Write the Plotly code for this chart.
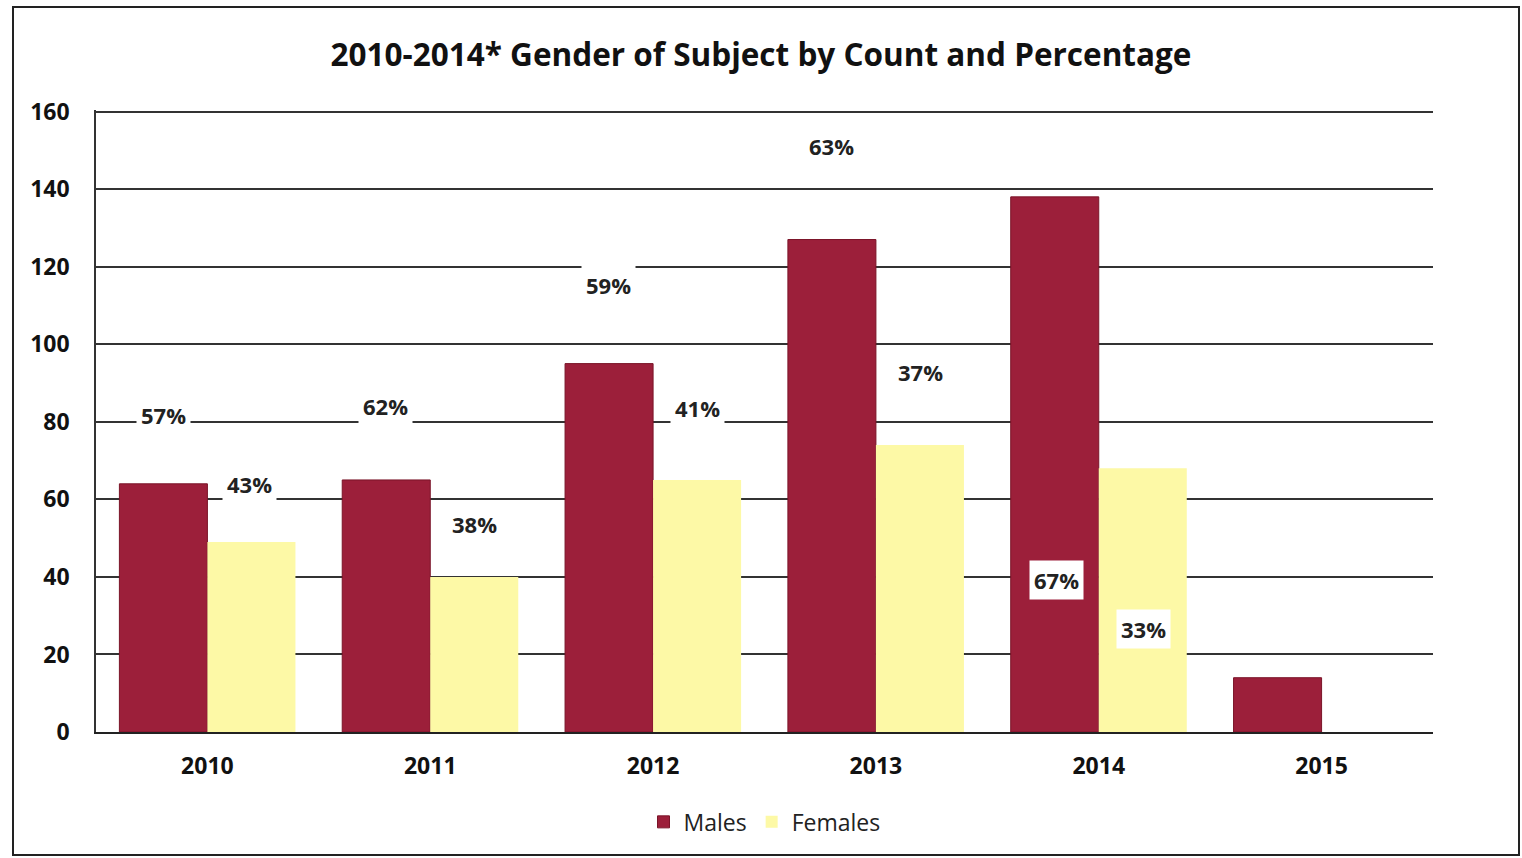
import plotly.graph_objects as go

years = ["2010", "2011", "2012", "2013", "2014", "2015"]
males = [64, 65, 95, 127, 138, 14]
females = [49, 40, 65, 74, 68, None]

pct_text = ["57%", "43%", "62%", "38%", "59%", "41%", "63%", "37%", "67%", "33%"]
pct_x = [-0.195, 0.19, 0.80, 1.20, 1.80, 2.20, 2.80, 3.20, 3.81, 4.20]
pct_y = [81.7, 63.9, 84, 53.6, 115.2, 83.5, 151, 92.8, 39.2, 26.5]

FONT = "Open Sans"
male_color = "#9c1f3a"
female_color = "#fdf9a6"

fig = go.Figure()
fig.add_trace(go.Bar(x=years, y=males, name="Males", marker=dict(color=male_color, line=dict(color="#7a1428", width=1))))
fig.add_trace(go.Bar(x=years, y=females, name="Females", marker=dict(color=female_color, line=dict(width=0))))

for t, x, y in zip(pct_text, pct_x, pct_y):
    fig.add_annotation(x=x, y=y, xref="x", yref="y", text=t, showarrow=False,
                       font=dict(family=FONT, size=22, color="#222", weight="bold"),
                       bgcolor="white", borderpad=4)

# outer chart frame
fig.add_shape(type="rect", xref="paper", yref="paper",
              x0=(13 - 96) / 1337, x1=(1519 - 96) / 1337,
              y0=(732 - 855) / 622, y1=(732 - 7) / 622,
              line=dict(color="#222", width=2), fillcolor="rgba(0,0,0,0)", layer="below")

fig.update_layout(
    width=1522, height=858,
    margin=dict(l=96, r=89, t=110, b=126),
    paper_bgcolor="white", plot_bgcolor="white",
    barmode="group", bargap=0.21, bargroupgap=0,
    title=dict(text="<b>2010-2014* Gender of Subject by Count and Percentage</b>",
               x=0.5, xanchor="center", y=0.936, yanchor="middle",
               font=dict(family=FONT, size=31.5, color="#111")),
    xaxis=dict(type="category", showgrid=False, showline=True, linecolor="#222", linewidth=2,
               ticks="", tickfont=dict(family=FONT, size=23, color="#111", weight="bold"),
               ticklabelstandoff=12, automargin=False),
    yaxis=dict(range=[0, 160.4], tickvals=[0, 20, 40, 60, 80, 100, 120, 140, 160],
               showgrid=True, gridcolor="#333", gridwidth=1.5,
               showline=True, linecolor="#333", linewidth=1.5, zeroline=False,
               ticks="", tickfont=dict(family=FONT, size=23, color="#111", weight="bold"),
               ticklabelstandoff=20, automargin=False),
    legend=dict(orientation="h", x=0.5, xanchor="center", y=-0.11, yanchor="top",
                bgcolor="rgba(0,0,0,0)",
                font=dict(family=FONT, size=23, color="#222"), itemwidth=30),
)

fig.write_html("out.html", config={"displayModeBar": False},
               post_script="document.body.style.margin='0';document.body.style.overflow='hidden';")
